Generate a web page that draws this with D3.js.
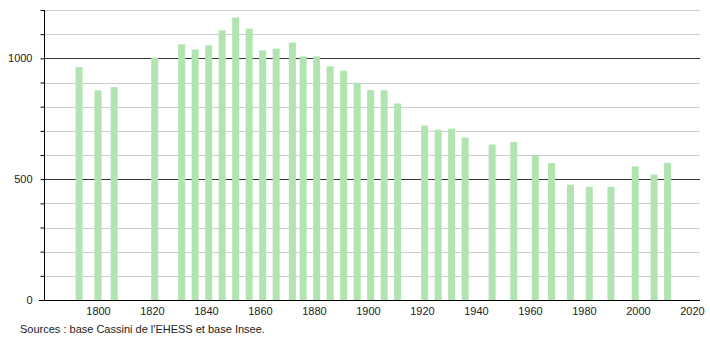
<!DOCTYPE html>
<html>
<head>
<meta charset="utf-8">
<script src="https://cdn.jsdelivr.net/npm/d3@7"></script>
<style>
  body { margin: 0; background: #fff; }
  text { font-family: "Liberation Sans", Arial, sans-serif; }
</style>
</head>
<body>
<script>
var width = 710,
    height = 340;

// census years and population
var years = [1793, 1800, 1806, 1821, 1831, 1836, 1841, 1846, 1851, 1856, 1861, 1866, 1872, 1876,
             1881, 1886, 1891, 1896, 1901, 1906, 1911, 1921, 1926, 1931, 1936, 1946, 1954, 1962,
             1968, 1975, 1982, 1990, 1999, 2006, 2011];
var population = [964, 868, 881, 1003, 1058, 1037, 1054, 1116, 1169, 1123, 1033, 1040, 1065, 1008,
                  1008, 967, 949, 899, 868, 868, 813, 722, 705, 709, 672, 643, 654, 599,
                  567, 477, 468, 468, 553, 519, 567];
var yTicks = [0, 500, 1000];
var xTicks = [1800, 1820, 1840, 1860, 1880, 1900, 1920, 1940, 1960, 1980, 2000, 2020];
var source = "Sources : base Cassini de l'EHESS et base Insee.";

//plot area
var plotLeft = 44, plotRight = 700, plotTop = 10, plotBottom = 300;

var svg = d3.select("body")
    .append("svg")
    .attr("width", width)
    .attr("height", height);

var x = d3.scaleLinear().domain([1780, 2023]).range([plotLeft, plotRight]);
var y = d3.scaleLinear().domain([0, 1200]).range([plotBottom, plotTop]);

//gridlines every 100, darker at 500 and 1000
var grid = d3.range(100, 1201, 100);
svg.append("g").selectAll("line")
    .data(grid)
    .enter().append("line")
    .attr("x1", plotLeft)
    .attr("x2", plotRight)
    .attr("y1", function(d) { return Math.round(y(d)) + 0.5; })
    .attr("y2", function(d) { return Math.round(y(d)) + 0.5; })
    .attr("stroke", function(d) { return d % 500 == 0 ? "#333" : "#ccc"; })
    .attr("stroke-width", 1);

//bars
var bw = 7;
svg.append("g").selectAll("rect")
    .data(years)
    .enter().append("rect")
    .attr("x", function(d) { return x(d) - bw / 2; })
    .attr("y", function(d, i) { return y(population[i]); })
    .attr("width", bw)
    .attr("height", function(d, i) { return plotBottom - y(population[i]); })
    .attr("fill", "#b1e4b1");

//left axis with minor ticks
var yAxis = d3.axisLeft(y)
    .tickValues(grid.concat([0]))
    .tickSize(4)
    .tickFormat(function(d) { return yTicks.indexOf(d) >= 0 ? d : ""; });
var gy = svg.append("g")
    .attr("transform", "translate(" + (plotLeft + 0.5) + ",0)")
    .call(yAxis);
gy.select(".domain").attr("d", "M0," + plotTop + "V" + (plotBottom + 0.5));
gy.selectAll("text")
    .attr("x", -12)
    .attr("font-size", "11px")
    .attr("font-family", "Liberation Sans, Arial, sans-serif")
    .attr("fill", "#222");

//bottom axis
var xAxis = d3.axisBottom(x)
    .tickValues(xTicks)
    .tickSize(0)
    .tickFormat(d3.format("d"));
var gx = svg.append("g")
    .attr("transform", "translate(0," + (plotBottom + 0.5) + ")")
    .call(xAxis);
gx.select(".domain").attr("d", "M39,0H" + plotRight);
gx.selectAll("text")
    .attr("y", 7)
    .attr("font-size", "11px")
    .attr("font-family", "Liberation Sans, Arial, sans-serif")
    .attr("fill", "#222");

svg.append("text")
    .attr("x", 20)
    .attr("y", 333)
    .attr("font-size", "11px")
    .attr("fill", "#222")
    .text(source);
</script>
</body>
</html>
